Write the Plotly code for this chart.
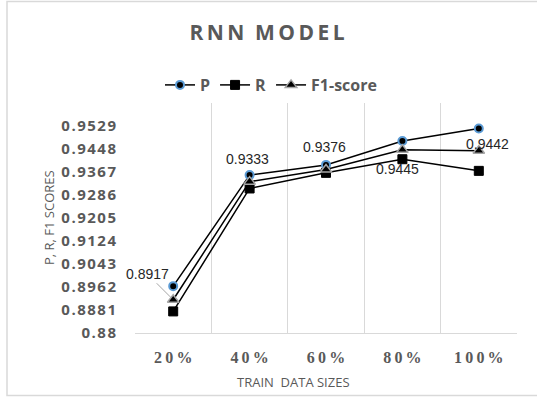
import plotly.graph_objects as go

categories = ["20%", "40%", "60%", "80%", "100%"]
p_values = [0.8965, 0.9356, 0.9392, 0.9476, 0.9520]
r_values = [0.8876, 0.9309, 0.9364, 0.9412, 0.9371]
f1_values = [0.8917, 0.9333, 0.9376, 0.9445, 0.9442]
y_ticks = [0.88, 0.8881, 0.8962, 0.9043, 0.9124, 0.9205, 0.9286, 0.9367, 0.9448, 0.9529]

GRAY = "#595959"
HAIR = "\u200a"
THIN = "\u2009"

fig = go.Figure()
fig.add_trace(go.Scatter(
    x=categories, y=p_values, name="P", mode="lines+markers",
    line=dict(color="black", width=1.5),
    marker=dict(symbol="circle", size=8, color="black", line=dict(color="#5B9BD5", width=2)),
))
fig.add_trace(go.Scatter(
    x=categories, y=r_values, name="R", mode="lines+markers",
    line=dict(color="black", width=1.5),
    marker=dict(symbol="square", size=9, color="black", line=dict(color="black", width=1)),
))
fig.add_trace(go.Scatter(
    x=categories, y=f1_values, name="F1-score", mode="lines+markers",
    line=dict(color="black", width=1.5),
    marker=dict(symbol="triangle-up", size=10, color="black", line=dict(color="#A5A5A5", width=1.5)),
))

# data labels (F1-score values)
label_font = dict(size=14, color="#262626", family="Liberation Sans")
shifts = [(0, 0), (-2, 23), (-2, 22), (-5, -19), (9, 7)]
for i, (c, v) in enumerate(zip(categories, f1_values)):
    if i == 0:
        fig.add_annotation(x=c, y=v, text=f"{v:.4f}", showarrow=True, arrowhead=0,
                           arrowcolor="#A5A5A5", arrowwidth=1, ax=-26, ay=-26,
                           standoff=4, font=label_font)
    else:
        fig.add_annotation(x=c, y=v, text=f"{v:.4f}", showarrow=False,
                           xshift=shifts[i][0], yshift=shifts[i][1], font=label_font)

L, R, T, B = 135, 20, 103, 67
W, H = 537, 400
pw, ph = W - L - R, H - T - B

def px(x):
    return (x - L) / pw

def py(y):
    return (H - B - y) / ph

fig.add_annotation(xref="paper", yref="paper", x=px(49), y=py(218), xanchor="center", yanchor="middle",
                   text="P, R, F1 SCORES", textangle=-90, showarrow=False,
                   font=dict(size=13, color=GRAY, family="Open Sans"))
fig.add_annotation(xref="paper", yref="paper", x=px(293), y=py(382), xanchor="center", yanchor="middle",
                   text="TRAIN&nbsp;&nbsp;DATA SIZES", showarrow=False,
                   font=dict(size=13, color=GRAY, family="Open Sans"))

fig.add_shape(type="rect", xref="paper", yref="paper", x0=px(7), x1=px(545), y0=py(395.5), y1=py(1.5),
              line=dict(color="#D9D9D9", width=1.5), fillcolor="rgba(0,0,0,0)", layer="above")

title_text = (THIN * 3).join(THIN.join(w) for w in "RNN MODEL".split(" "))

fig.update_layout(
    width=W, height=H, margin=dict(l=L, r=R, t=T, b=B, autoexpand=False),
    paper_bgcolor="white", plot_bgcolor="white",
    title=dict(text=f"<b>{title_text}</b>", xref="container", yref="container",
               x=267 / W, xanchor="center", y=1 - 33 / H, yanchor="middle",
               font=dict(size=21, color=GRAY, family="Open Sans")),
    legend=dict(orientation="h", xref="container", yref="container",
                x=271 / W, xanchor="center", y=1 - 85 / H, yanchor="middle",
                font=dict(size=16, color=GRAY, family="Open Sans", weight="bold"),
                bgcolor="rgba(0,0,0,0)", itemwidth=30),
    showlegend=True,
)
fig.update_xaxes(
    type="category", range=[-0.5, 4.5], tickson="boundaries", ticks="",
    showgrid=True, gridcolor="#D9D9D9", gridwidth=1,
    showline=True, linecolor="#D9D9D9", linewidth=1, automargin=False,
    tickvals=categories, ticktext=[THIN.join(c) for c in categories],
    tickfont=dict(size=16, color=GRAY, family="Liberation Serif", weight="bold"),
    ticklabelstandoff=10,
)
fig.update_yaxes(
    range=[0.88, 0.961], tickvals=y_ticks, ticktext=[HAIR.join(f"{t:g}") for t in y_ticks],
    showgrid=False, zeroline=False, showline=False, ticks="", automargin=False,
    tickfont=dict(size=15, color=GRAY, family="Open Sans", weight="bold"),
    ticklabelstandoff=18,
)

fig.write_html("out.html", config={"displayModeBar": False},
               post_script="document.body.style.margin='0';document.body.style.padding='0';")
